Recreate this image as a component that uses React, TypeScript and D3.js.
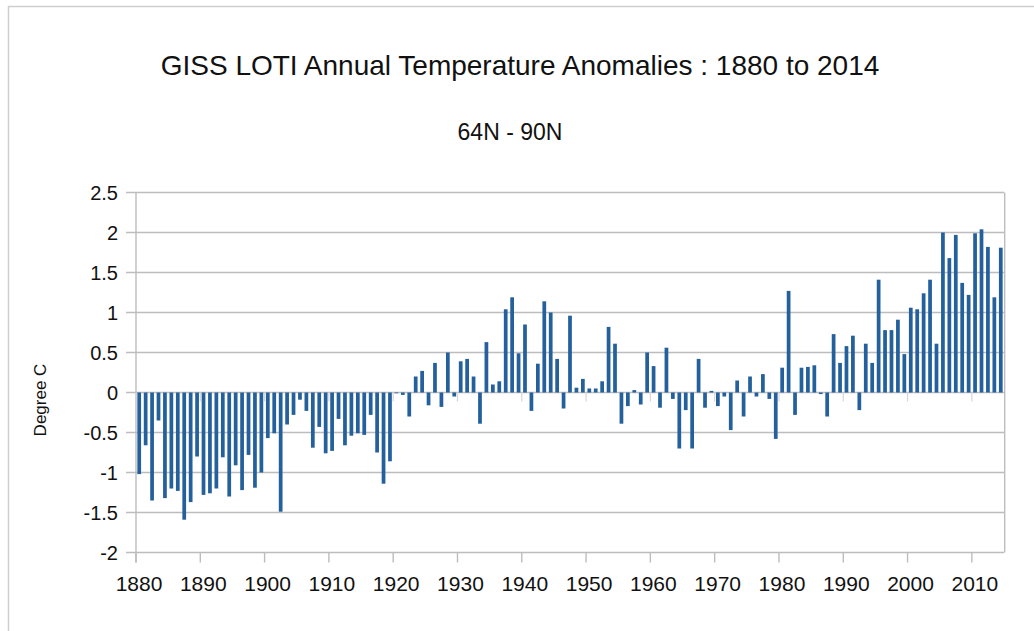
import React from "react";
import { scaleBand, scaleLinear } from "d3";

// GISS LOTI annual anomalies, 64N-90N, one value per year
const years: number[] = Array.from({ length: 135 }, (_, i) => 1880 + i);

const anomalies: number[] = [
  // 1880s
  -1.02, -0.66, -1.35, -0.35, -1.32, -1.2, -1.23, -1.59, -1.37, -0.8,
  // 1890s
  -1.28, -1.26, -1.2, -0.81, -1.3, -0.91, -1.22, -0.78, -1.19, -1.0,
  // 1900s
  -0.57, -0.51, -1.49, -0.4, -0.28, -0.09, -0.23, -0.69, -0.43, -0.76,
  // 1910s
  -0.73, -0.33, -0.66, -0.54, -0.51, -0.53, -0.28, -0.75, -1.14, -0.86,
  // 1920s
  -0.01, -0.03, -0.3, 0.2, 0.27, -0.16, 0.37, -0.18, 0.5, -0.05,
  // 1930s
  0.39, 0.42, 0.2, -0.39, 0.63, 0.1, 0.14, 1.04, 1.19, 0.49,
  // 1940s
  0.85, -0.23, 0.36, 1.14, 1.0, 0.42, -0.2, 0.96, 0.06, 0.17,
  // 1950s
  0.05, 0.05, 0.14, 0.82, 0.61, -0.39, -0.17, 0.03, -0.15, 0.5,
  // 1960s
  0.33, -0.19, 0.56, -0.08, -0.7, -0.22, -0.7, 0.42, -0.19, 0.02,
  // 1970s
  -0.17, -0.05, -0.47, 0.15, -0.3, 0.2, -0.05, 0.23, -0.08, -0.58,
  // 1980s
  0.31, 1.27, -0.28, 0.31, 0.32, 0.34, -0.02, -0.3, 0.73, 0.37,
  // 1990s
  0.58, 0.71, -0.22, 0.61, 0.37, 1.41, 0.78, 0.78, 0.91, 0.48,
  // 2000s
  1.06, 1.04, 1.24, 1.41, 0.61, 2.0, 1.68, 1.97, 1.37, 1.22,
  // 2010-2014
  1.99, 2.04, 1.82, 1.19, 1.81,
];

const yTicks: number[] = [-2, -1.5, -1, -0.5, 0, 0.5, 1, 1.5, 2, 2.5];
const xTicks: number[] = [1880, 1890, 1900, 1910, 1920, 1930, 1940, 1950, 1960, 1970, 1980, 1990, 2000, 2010];

const title = "GISS LOTI Annual Temperature Anomalies : 1880 to 2014";
const subtitle = "64N - 90N";
const yLabel = "Degree C";

const W = 1034;
const H = 631;
const left = 136;
const right = 1004;
const top = 192.5;
const bottom = 552.5;

const font = "'Liberation Sans', Arial, Helvetica, sans-serif";
const gridColor = "#bdbdbd";
const barColor = "#24609c";

export default function App() {
  const x = scaleBand<number>()
    .domain(years)
    .range([left, right])
    .paddingInner(0.42)
    .paddingOuter(0.21);

  // year boundaries for the tick marks
  const xTick = scaleLinear().domain([1880, 2015]).range([left, right]);

  const y = scaleLinear().domain([-2, 2.5]).range([bottom, top]);
  const y0 = y(0);

  return (
    <svg
      width={W}
      height={H}
      style={{ position: "absolute", left: 0, top: 0, background: "#fff" }}
      fontFamily={font}
    >
      <rect x={0} y={0} width={W} height={H} fill="#fff" />
      {/* outer frame */}
      <rect x={8.5} y={6.5} width={W + 10} height={H + 10} fill="none" stroke="#cfcfcf" strokeWidth={1.5} />

      <text x={520} y={75} textAnchor="middle" fontSize={28} fill="#111">
        {title}
      </text>
      <text x={510} y={140} textAnchor="middle" fontSize={23} fill="#111">
        {subtitle}
      </text>

      <text
        transform={`translate(46,400) rotate(-90)`}
        textAnchor="middle"
        fontSize={17}
        fill="#111"
      >
        {yLabel}
      </text>

      {/* horizontal gridlines and y ticks */}
      {yTicks.map((t) => (
        <g key={t}>
          <line x1={left - 10} x2={right} y1={y(t)} y2={y(t)} stroke={gridColor} strokeWidth={1.4} />
          <text x={118} y={y(t)} dy="0.36em" textAnchor="end" fontSize={20} fill="#111">
            {String(t)}
          </text>
        </g>
      ))}

      {/* vertical frame lines */}
      <line x1={left} x2={left} y1={top} y2={bottom + 10} stroke={gridColor} strokeWidth={1.4} />
      <line x1={right + 0.7} x2={right + 0.7} y1={top} y2={bottom} stroke={gridColor} strokeWidth={1.4} />

      {/* x ticks at the bottom and at the zero line */}
      {xTicks.map((t) => (
        <g key={t}>
          <line x1={xTick(t)} x2={xTick(t)} y1={bottom} y2={bottom + 10} stroke={gridColor} strokeWidth={1.4} />
          <line x1={xTick(t)} x2={xTick(t)} y1={y0} y2={y0 + 9} stroke="#d6d6d6" strokeWidth={1.2} />
          <text x={xTick(t) + 3} y={591} textAnchor="middle" fontSize={21} fill="#111">
            {t}
          </text>
        </g>
      ))}

      {/* bars */}
      {years.map((yr, i) => {
        const v = anomalies[i];
        const yTop = Math.min(y(v), y0);
        const h = Math.abs(y(v) - y0);
        return (
          <rect
            key={yr}
            x={x(yr)}
            y={yTop}
            width={x.bandwidth()}
            height={Math.max(h, 0.8)}
            fill={barColor}
          />
        );
      })}
    </svg>
  );
}
